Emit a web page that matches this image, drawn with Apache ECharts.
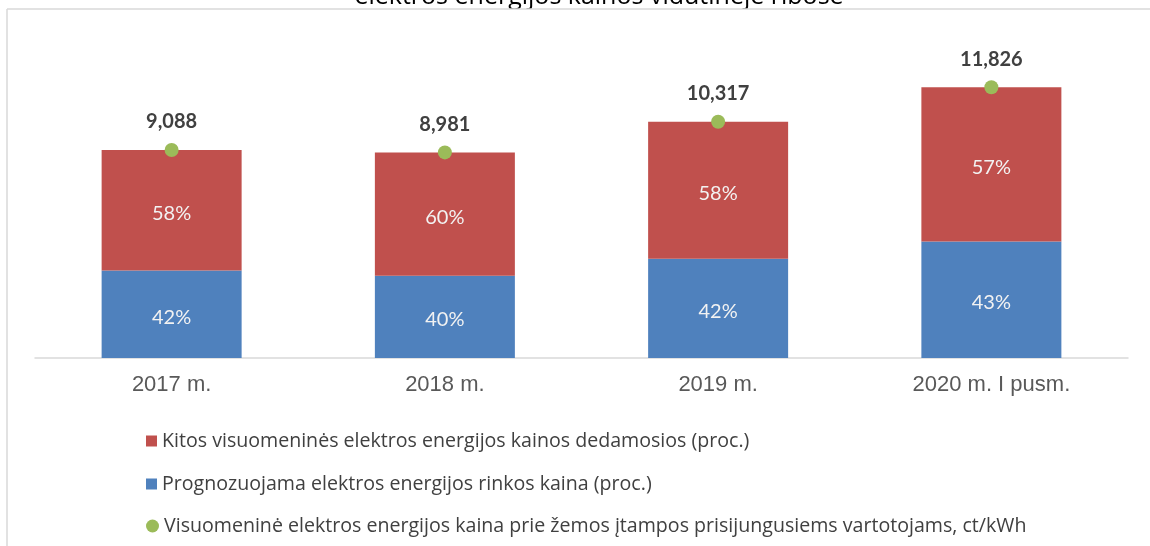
<!DOCTYPE html>
<html>
<head>
<meta charset="utf-8">
<script src="https://cdn.jsdelivr.net/npm/echarts@6/dist/echarts.min.js"></script>
<style>
html,body{margin:0;padding:0;background:#fff;}
#chart{width:1150px;height:546px;}
</style>
</head>
<body>
<div id="chart"></div>
<script>
// ---- data ----
const titleText = 'elektros energijos kainos vidutinėje ribose';
const categories = ['2017 m.', '2018 m.', '2019 m.', '2020 m. I pusm.'];
const totalPrice = [9.088, 8.981, 10.317, 11.826];   // ct/kWh
const marketPct = [42, 40, 42, 43];                   // blue share (%)
const otherPct = [58, 60, 58, 57];                    // red share (%)
const seriesNames = [
  'Kitos visuomeninės elektros energijos kainos dedamosios (proc.)',
  'Prognozuojama elektros energijos rinkos kaina (proc.)',
  'Visuomeninė elektros energijos kaina prie žemos įtampos prisijungusiems vartotojams, ct/kWh'
];

const blueVals = totalPrice.map((t, i) => ({ value: t * marketPct[i] / 100, pct: marketPct[i] }));
const redVals = totalPrice.map((t, i) => ({ value: t * otherPct[i] / 100, pct: otherPct[i] }));

const chart = echarts.init(document.getElementById('chart'));
const legendBase = {
  orient: 'horizontal', left: 141, itemWidth: 11, itemHeight: 11, itemGap: 10,
  textStyle: { fontFamily: 'Open Sans', fontSize: 19.6, color: '#404040' }
};
chart.setOption({
  animation: false,
  backgroundColor: '#fff',
  grid: { left: 35, right: 22, top: 37.5, bottom: 188 },
  xAxis: {
    type: 'category', data: categories,
    axisLine: { lineStyle: { color: '#d9d9d9', width: 1.5 } },
    axisTick: { show: false },
    axisLabel: { margin: 16, fontFamily: 'Liberation Sans', fontSize: 22, color: '#595959' }
  },
  yAxis: { type: 'value', min: 0, max: 14, show: false, splitLine: { show: false } },
  legend: [
    Object.assign({}, legendBase, { top: 426, data: [{ name: seriesNames[0], icon: 'rect' }] }),
    Object.assign({}, legendBase, { top: 469, data: [{ name: seriesNames[1], icon: 'rect' }] }),
    Object.assign({}, legendBase, { top: 511, itemWidth: 13, itemHeight: 13, data: [{ name: seriesNames[2], icon: 'circle' }] })
  ],
  graphic: [
    { type: 'text', x: 599, y: 9, z: 1, style: { text: titleText, fontFamily: 'Open Sans', fontSize: 25, fill: '#000', textAlign: 'center', textVerticalAlign: 'bottom' } },
    { type: 'rect', shape: { x: 0, y: 9, width: 1150, height: 5 }, style: { fill: '#fff' }, z: 2 },
    { type: 'line', shape: { x1: 7, y1: 9, x2: 1150, y2: 9 }, style: { stroke: '#d9d9d9', lineWidth: 1.5 }, z: 3 },
    { type: 'line', shape: { x1: 7, y1: 9, x2: 7, y2: 546 }, style: { stroke: '#d9d9d9', lineWidth: 1.5 }, z: 3 }
  ],
  series: [
    {
      name: seriesNames[1], type: 'bar', stack: 'p', barWidth: 140, data: blueVals,
      itemStyle: { color: '#4f81bd' },
      label: { show: true, position: 'inside', offset: [0, 3], formatter: p => p.data.pct + '%', fontFamily: 'Lato', fontSize: 20, color: '#f2f2f2' }
    },
    {
      name: seriesNames[0], type: 'bar', stack: 'p', barWidth: 140, data: redVals,
      itemStyle: { color: '#c0504d' },
      label: { show: true, position: 'inside', offset: [0, 3], formatter: p => p.data.pct + '%', fontFamily: 'Lato', fontSize: 20, color: '#f2f2f2' }
    },
    {
      name: seriesNames[2], type: 'line', data: totalPrice,
      symbol: 'circle', symbolSize: 14,
      itemStyle: { color: '#9bbb59' },
      lineStyle: { width: 0, opacity: 0 },
      z: 5,
      label: { show: true, position: 'top', distance: 11, formatter: p => p.value.toFixed(3).replace('.', ','), fontFamily: 'Lato', fontWeight: 'bold', fontSize: 20, color: '#404040' }
    }
  ]
});
</script>
</body>
</html>
